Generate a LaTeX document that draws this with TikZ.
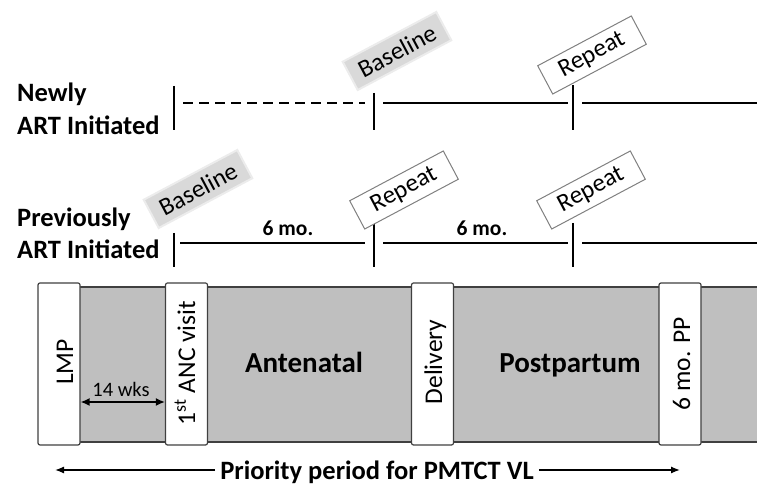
\documentclass[tikz,border=0pt]{standalone}
\usepackage{fontspec}
\setmainfont{Carlito}
\usepackage{tikz}
\usetikzlibrary{positioning,shapes,arrows,arrows.meta,calc}
\definecolor{bandgray}{RGB}{191,191,191}
\definecolor{basegray}{RGB}{217,217,217}
\definecolor{edgegray}{RGB}{64,64,64}
\definecolor{tagedge}{RGB}{128,128,128}
\tikzstyle{rowlabel}=[anchor=base west, inner sep=0pt, font=\fontsize{26.5}{30}\selectfont\bfseries]
\tikzstyle{visittick}=[line width=2.6pt]
\tikzstyle{timeline}=[line width=2.2pt]
\tikzstyle{tag}=[rotate=28, minimum width=106pt, minimum height=32pt, inner sep=2pt, font=\fontsize{25}{28}\selectfont]
\tikzstyle{basetag}=[tag, fill=basegray, draw=basegray!50, line width=2pt]
\tikzstyle{repeattag}=[tag, fill=white, draw=tagedge, line width=1pt]
\tikzstyle{eventbox}=[draw=edgegray, fill=white, rounded corners=2pt, line width=1.2pt, minimum width=42pt, minimum height=162pt]
\tikzstyle{eventtext}=[rotate=90, anchor=base, inner sep=0pt, font=\fontsize{25.5}{30}\selectfont]
\tikzstyle{phase}=[anchor=base, font=\fontsize{29}{32}\selectfont\bfseries]
\tikzstyle{gaplabel}=[font=\fontsize{21.5}{24}\selectfont\bfseries]
\tikzstyle{span}=[{Latex[length=9pt,width=8pt]}-{Latex[length=9pt,width=8pt]}, line width=1.5pt]
\tikzstyle{priority}=[-{Latex[length=9pt,width=7pt]}, line width=1.3pt]

\begin{document}
\begin{tikzpicture}[x=1pt, y=1pt]
	\useasboundingbox (0,0) rectangle (757,486);

	% newly initiated
	\node[rowlabel] (newa) at (17,384) {Newly};
	\node[rowlabel] (newb) at (17,351) {ART Initiated};
	\coordinate (na) at (174,383);
	\coordinate (nb) at (374,383);
	\coordinate (nc) at (573,383);
	\coordinate (nend) at (757,383);
	\draw[visittick] ($(na)+(0,17)$) -- ($(na)+(0,-27)$);
	\draw[visittick] ($(nb)+(0,10)$) -- ($(nb)+(0,-27)$);
	\draw[visittick] ($(nc)+(0,18)$) -- ($(nc)+(0,-27)$);
	\draw[timeline, dash pattern=on 10pt off 6pt] ($(na)+(9,0)$) -- ($(nb)+(-9,0)$);
	\draw[timeline] ($(nb)+(9,0)$) -- ($(nc)+(-5,0)$);
	\draw[timeline] ($(nc)+(9,0)$) -- (nend);
	\node[basetag] (nbase) at ($(nb)+(23,52)$) {Baseline};
	\node[repeattag] (nrep) at ($(nc)+(19,48)$) {Repeat};

	% previously initiated
	\node[rowlabel] (preva) at (17,259) {Previously};
	\node[rowlabel] (prevb) at (17,227) {ART Initiated};
	\coordinate (pa) at (174,243);
	\coordinate (pb) at (374,243);
	\coordinate (pc) at (573,243);
	\coordinate (pend) at (757,243);
	\draw[visittick] ($(pa)+(0,10)$) -- ($(pa)+(0,-24)$);
	\draw[visittick] ($(pb)+(0,20)$) -- ($(pb)+(0,-24)$);
	\draw[visittick] ($(pc)+(0,20)$) -- ($(pc)+(0,-24)$);
	\draw[timeline] ($(pa)+(6,0)$) -- ($(pb)+(-9,0)$);
	\draw[timeline] ($(pb)+(9,0)$) -- ($(pc)+(-5,0)$);
	\draw[timeline] ($(pc)+(9,0)$) -- (pend);
	\node[basetag] (pbase) at ($(pa)+(24,54)$) {Baseline};
	\node[repeattag] (prep) at ($(pb)+(30,53)$) {Repeat};
	\node[repeattag] (prepb) at ($(pc)+(18,53)$) {Repeat};
	\node[gaplabel] (gapa) at (288,258) {6 mo.};
	\node[gaplabel] (gapb) at (482,258) {6 mo.};

	% pregnancy band
	\fill[bandgray] (59,44) rectangle (757,199);
	\draw[edgegray, line width=1.2pt] (59,199) -- (757,199);
	\draw[edgegray, line width=1.2pt] (59,44) -- (757,44);
	\node[eventbox] (lmp) at (59,122) {};
	\node[eventbox] (anc) at (186.5,122) {};
	\node[eventbox] (deliv) at (432.5,122) {};
	\node[eventbox] (pp) at (680,122) {};
	\node[eventtext] (lmptext) at (73,124) {LMP};
	\node[eventtext] (anctext) at (195,123) {1\textsuperscript{st} ANC visit};
	\node[eventtext] (delivtext) at (442,124) {Delivery};
	\node[eventtext] (pptext) at (690,122) {6 mo. PP};
	\node[phase] (ante) at (304,113) {Antenatal};
	\node[phase] (post) at (570,113) {Postpartum};
	\coordinate (wk) at (120,84);
	\draw[span] (lmp.east |- wk) -- (anc.west |- wk);
	\node[anchor=base, inner sep=0pt, font=\fontsize{20.5}{24}\selectfont] (wks) at (121,89) {14 wks};

	% priority period
	\node[anchor=base, inner sep=5pt, font=\fontsize{26.5}{30}\selectfont\bfseries] (prio) at (377,6) {Priority period for PMTCT VL};
	\coordinate (pl) at (55,16);
	\coordinate (pr) at (680,16);
	\draw[priority] (prio.west |- pl) -- (pl);
	\draw[priority] (prio.east |- pr) -- (pr);
\end{tikzpicture}
\end{document}
